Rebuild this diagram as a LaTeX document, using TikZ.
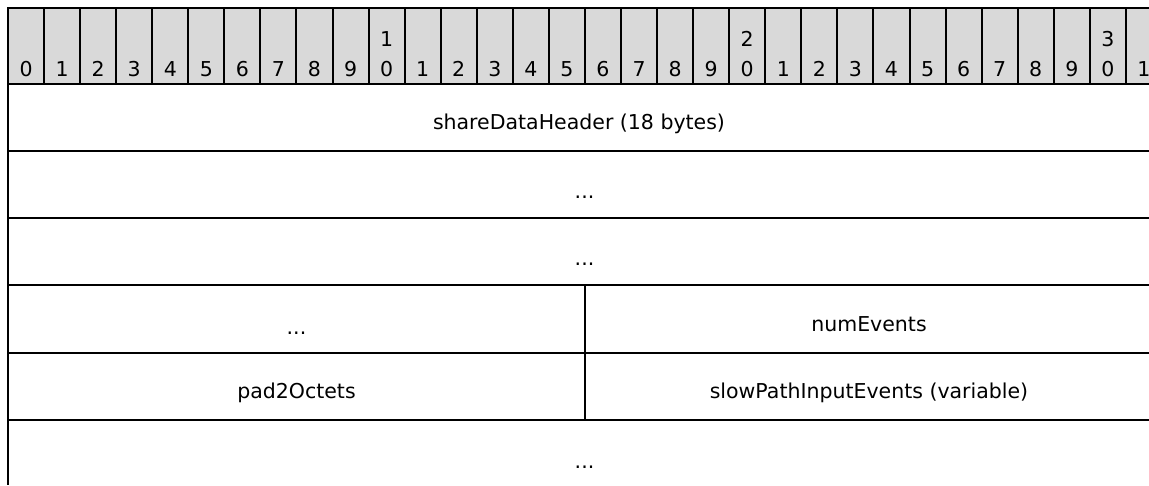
\documentclass[tikz,border=0pt]{standalone}
\usepackage{fontspec}
\setmainfont{DejaVu Sans}
\definecolor{hdrgray}{RGB}{217,217,217}
\begin{document}
\begin{tikzpicture}[x=1pt,y=-1pt,line width=2pt,
  lbl/.style={font=\fontsize{20.5}{24}\selectfont, anchor=base, inner sep=0pt, text=black}]
\useasboundingbox (0,0) rectangle (1149,485);
% header background and borders
\fill[hdrgray] (8,8) rectangle (1149,84);
\draw (1149,8) -- (8,8) -- (8,485);
\draw (8,84) -- (1149,84);
\foreach \i in {1,...,31} \draw (8+36.06*\i,8) -- (8+36.06*\i,84);
% bit numbers
\foreach \i in {0,...,31} {
  \pgfmathtruncatemacro{\ones}{mod(\i,10)}
  \node[lbl] (b\i) at (8+36.06*\i+18.03,76) {\ones};
}
\node[lbl] (t10) at (8+36.06*10+18.03,46.5) {1};
\node[lbl] (t20) at (8+36.06*20+18.03,46.5) {2};
\node[lbl] (t30) at (8+36.06*30+18.03,46.5) {3};
% row lines
\foreach \y in {151,218,285.3,353,420} \draw (8,\y) -- (1149,\y);
\draw (585,285.3) -- (585,420);
% field labels
\node[lbl] (f1) at (579,129.5) {shareDataHeader (18 bytes)};
\node[lbl] (f2) at (584.5,198) {...};
\node[lbl] (f3) at (584.5,265) {...};
\node[lbl] (f4) at (296.5,334) {...};
\node[lbl] (f5) at (869,331) {numEvents};
\node[lbl] (f6) at (296.5,398) {pad2Octets};
\node[lbl] (f7) at (869,398) {slowPathInputEvents (variable)};
\node[lbl] (f8) at (584.5,468) {...};
\end{tikzpicture}
\end{document}
